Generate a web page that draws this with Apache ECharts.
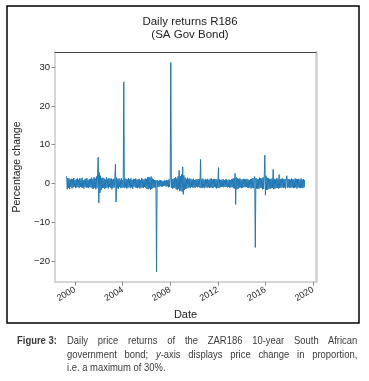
<!DOCTYPE html>
<html>
<head>
<meta charset="utf-8">
<script src="https://cdn.jsdelivr.net/npm/echarts@6/dist/echarts.min.js"></script>
<style>
  html, body { margin: 0; padding: 0; background: #fff; }
  #wrap { position: relative; width: 369px; height: 381px; }
  #chart { position: absolute; left: 0; top: 0; width: 369px; height: 381px; }
  .caption {
    position: absolute; left: 17px; top: 334px; width: 415px;
    transform: scaleX(0.82); transform-origin: 0 0;
    font-family: 'Liberation Sans', Arial, sans-serif;
    font-size: 11.5px; line-height: 13.5px; color: #3a3a3a;
  }
  .caption .lab { position: absolute; left: 0; top: 0; font-weight: bold; }
  .caption .txt { position: absolute; left: 61px; top: 0; width: 354px; }
  .caption .j { text-align: justify; text-align-last: justify; white-space: nowrap; }
</style>
</head>
<body>
<div id="wrap">
  <div id="chart"></div>
  <div class="caption">
    <div class="lab">Figure 3:</div>
    <div class="txt">
      <div class="j">Daily price returns of the ZAR186 10-year South African</div>
      <div class="j">government bond; <i>y</i>-axis displays price change in proportion,</div>
      <div>i.e. a maximum of 30%.</div>
    </div>
  </div>
</div>
<script>
  const FONT = "'Liberation Sans', Arial, sans-serif"
  const COLOR = { line: '#1f77b4', text: '#222222', spine: '#c8c8c8', top: '#444444' }

  // daily returns, sampled every 0.05 yr starting 1999.30 (one row = one year)
  const startYear = 1999.3
  const step = 0.05
  const returns = [
    1.9, -1.5, 1.4, -1.1, 1.3, -1.4, 1.0, -0.9, 1.2, -1.3, 1.1, -1.0, 1.4, -0.8, 0.9, -1.2, 1.1, -1.0, 1.3, -0.9,
    1.0, -1.2, 1.4, -0.9, 1.1, -1.0, 1.5, -1.1, 0.8, -1.3, 1.0, -0.8, 1.2, -1.1, 1.4, -1.0, 0.9, -1.2, 1.1, -0.9,
    1.2, -1.0, 1.5, -1.3, 1.1, -1.4, 1.6, -1.1, 1.3, -1.5, 1.8, -1.2, 2.6, 6.8, -5.0, 2.8, -2.4, 2.0, -1.7, 1.4,
    -1.2, 1.5, -1.1, 1.3, -1.4, 1.0, -1.2, 1.6, -1.0, 1.1, -1.3, 1.4, -0.9, 1.2, -1.1, 1.3, -1.5, 1.0, -1.1, 1.2,
    -1.0, 1.4, 5.0, -4.8, 1.5, -1.2, 1.1, -1.4, 1.3, -0.9, 1.0, -1.2, 1.4, -1.1, 0.9, -1.0, 26.2, -1.1, 1.3, -1.0,
    1.2, -1.3, 1.0, -1.1, 1.4, -0.9, 1.1, -1.2, 1.3, -1.0, 0.9, -1.4, 1.2, -0.8, 1.1, -1.0, 1.3, -1.1, 1.0, -1.2,
    1.1, -1.0, 1.2, -1.3, 0.9, -1.1, 1.4, -1.0, 1.1, -1.2, 1.0, -0.9, 1.3, -1.1, 1.2, -1.4, 1.6, -1.5, 1.7, -1.3,
    1.5, -1.6, 1.8, -1.4, 1.3, -1.2, 1.1, -1.0, 0.9, -1.1, 0.8, -22.8, 0.9, -0.8, 0.7, -0.9, 0.8, -0.7, 0.9, -0.8,
    0.7, -0.8, 0.6, -0.7, 0.8, -0.6, 0.7, -0.8, 0.9, -0.7, 0.8, -1.0, 1.1, -0.9, 1.0, 31.2, -1.1, 1.2, -1.3, 1.1,
    -1.2, 1.4, -1.1, 1.6, -1.5, 1.3, -1.7, 1.8, -1.4, 3.4, -2.0, 1.9, -1.8, 2.3, -2.1, 4.3, -2.8, 2.1, -1.7, 1.5,
    -1.4, 1.2, -1.3, 1.5, -1.1, 1.2, -1.0, 1.3, -1.2, 1.1, -0.9, 1.0, -1.1, 1.2, -1.0, 0.9, -1.1, 1.0, -0.8, 1.1,
    -1.0, 1.1, -0.9, 1.2, -1.1, 6.2, -1.2, 1.0, -1.1, 1.3, -1.0, 0.9, -1.2, 1.1, -0.9, 1.0, -1.1, 1.2, -1.0, 0.9,
    -1.1, 1.2, -1.0, 1.3, -1.1, 1.0, -1.2, 1.1, -0.9, 1.2, -1.0, 1.1, -1.3, 1.0, -1.1, 4.1, -1.2, 1.1, -1.0, 0.9,
    -0.9, 1.0, -0.8, 1.1, -1.0, 0.9, -0.8, 1.0, -0.9, 1.1, -1.0, 0.8, -0.9, 1.0, -1.1, 0.9, -1.0, 1.1, -0.9, 1.2,
    -1.2, 1.4, -1.3, 2.6, -5.4, 1.6, -1.5, 1.3, -1.4, 1.2, -1.1, 1.3, -1.0, 1.1, -1.2, 1.0, -1.1, 1.2, -0.9, 1.1,
    -1.0, 1.1, -0.9, 1.2, -1.1, 1.0, -1.2, 0.9, -1.0, 1.1, -1.3, 1.2, -1.1, 1.4, -1.2, 1.1, 1.8, -16.5, 1.4, -1.3,
    1.2, -1.4, 1.1, -1.3, 1.5, -1.2, 1.4, -1.1, 1.3, -1.5, 1.6, -1.4, 1.8, 7.3, -3.0, 2.0, -1.7, 1.5, -1.6, 1.4,
    -1.3, 1.2, -1.4, 1.1, -1.2, 1.3, -1.1, 3.6, -1.5, 1.2, -1.3, 1.0, -1.2, 1.4, -1.1, 1.2, -1.3, 2.3, -1.2, 1.1,
    -1.1, 1.2, -1.0, 1.3, -1.2, 1.1, -1.0, 1.2, -1.3, 1.0, 2.0, -1.1, 1.2, -1.0, 1.1, -1.2, 1.0, -1.1, 1.3, -1.0,
    1.1, -1.2, 1.0, -1.1, 1.3, -1.0, 1.2, -1.3, 1.1, -1.0, 1.2, -1.1, 1.0, -1.2, 1.3, -1.1, 1.0, -1.2, 1.1, -1.0,
    0.9
  ]
  const yearTicks = [2000, 2004, 2008, 2012, 2016, 2020]
  const pctTicks = [-20, -10, 0, 10, 20, 30]

  const seriesData = returns.map((v, i) => [startYear + i * step, v])

  const chart = echarts.init(document.getElementById('chart'), null, { renderer: 'canvas' })

  const option = {
    animation: false,
    textStyle: { fontFamily: FONT },
    title: {
      text: 'Daily returns R186\n(SA Gov Bond)',
      left: 185,
      top: 10,
      textAlign: 'center',
      textStyle: { fontSize: 11.5, fontWeight: 'normal', color: COLOR.text, lineHeight: 13.5, fontFamily: FONT }
    },
    graphic: [{
      type: 'rect',
      shape: { x: 7, y: 6, width: 352, height: 317 },
      style: { fill: 'none', stroke: '#000', lineWidth: 1.5 }
    }],
    grid: { left: 55, right: 53, top: 52, bottom: 99, containLabel: false, outerBoundsMode: 'none' },
    xAxis: [{
      type: 'value',
      min: 1998.32,
      max: 2020.25,
      name: 'Date',
      nameLocation: 'middle',
      nameGap: 27,
      nameTextStyle: { fontSize: 11, color: COLOR.text, fontFamily: FONT },
      splitLine: { show: false },
      axisLine: { show: true, onZero: false, lineStyle: { color: COLOR.spine, width: 1.5 } },
      axisTick: { show: true, customValues: yearTicks, length: 3.5, lineStyle: { color: '#888' } },
      axisLabel: {
        customValues: yearTicks,
        rotate: 30,
        margin: 7,
        fontSize: 9,
        color: COLOR.text,
        fontFamily: FONT,
        formatter: v => String(Math.round(v))
      }
    }, {
      type: 'value',
      position: 'top',
      min: 1998.32,
      max: 2020.25,
      splitLine: { show: false },
      axisLine: { show: true, onZero: false, lineStyle: { color: COLOR.top, width: 1 } },
      axisTick: { show: false },
      axisLabel: { show: false }
    }],
    yAxis: [{
      type: 'value',
      min: -25.4,
      max: 33.9,
      name: 'Percentage change',
      nameLocation: 'middle',
      nameGap: 30,
      nameTextStyle: { fontSize: 10.5, color: COLOR.text, fontFamily: FONT },
      splitLine: { show: false },
      axisLine: { show: true, onZero: false, lineStyle: { color: COLOR.spine, width: 1.5 } },
      axisTick: { show: true, customValues: pctTicks, length: 3.5, lineStyle: { color: '#888' } },
      axisLabel: {
        customValues: pctTicks,
        margin: 5,
        fontSize: 9.5,
        color: COLOR.text,
        fontFamily: FONT,
        formatter: v => v < 0 ? '\u2212' + Math.abs(v) : String(v)
      }
    }, {
      type: 'value',
      position: 'right',
      min: -25.4,
      max: 33.9,
      splitLine: { show: false },
      axisLine: { show: true, onZero: false, lineStyle: { color: '#cfcfcf', width: 2.5 } },
      axisTick: { show: false },
      axisLabel: { show: false }
    }],
    series: [{
      type: 'line',
      data: seriesData,
      xAxisIndex: 0,
      yAxisIndex: 0,
      showSymbol: false,
      symbol: 'none',
      lineStyle: { color: COLOR.line, width: 1 },
      emphasis: { disabled: true }
    }]
  }
  chart.setOption(option)
</script>
</body>
</html>
